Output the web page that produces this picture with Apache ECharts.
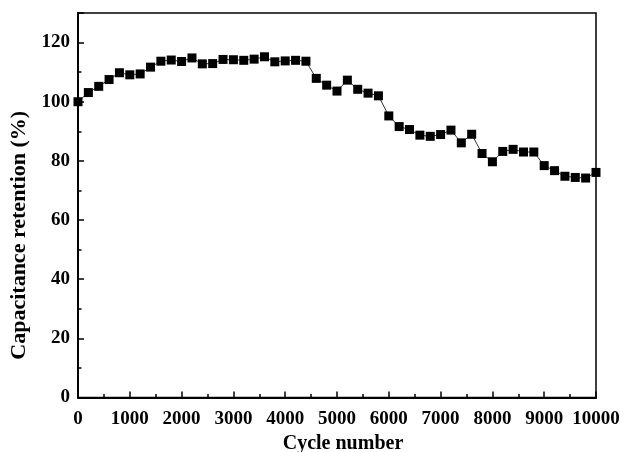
<!DOCTYPE html>
<html><head><meta charset="utf-8">
<script src="https://cdn.jsdelivr.net/npm/echarts@6/dist/echarts.min.js"></script>
<style>html,body{margin:0;padding:0;background:#fff}#c{width:633px;height:452px}</style>
</head><body><div id="c"></div>
<script>
const cycles = [0,200,400,600,800,1000,1200,1400,1600,1800,2000,2200,2400,2600,2800,3000,3200,3400,3600,3800,4000,4200,4400,4600,4800,5000,5200,5400,5600,5800,6000,6200,6400,6600,6800,7000,7200,7400,7600,7800,8000,8200,8400,8600,8800,9000,9200,9400,9600,9800,10000];
const retention = [100,103.1,105.2,107.5,109.8,109.1,109.4,111.7,113.7,114.1,113.6,114.8,112.8,112.9,114.3,114.2,114.0,114.4,115.2,113.5,113.8,114.0,113.7,107.9,105.6,103.6,107.3,104.2,102.9,102.0,95.2,91.6,90.6,88.7,88.3,88.9,90.4,86.1,89.0,82.5,79.7,83.2,83.9,83.0,83.0,78.4,76.7,74.8,74.4,74.2,76.1];
const xTitle = 'Cycle number';
const yTitle = 'Capacitance retention (%)';
const font = 'Liberation Serif';
const chart = echarts.init(document.getElementById('c'));
chart.setOption({
  animation:false,
  grid:{left:78,right:37,top:13,bottom:54.5,show:true,borderColor:'#000',borderWidth:1.5,backgroundColor:'transparent',outerBoundsMode:'none',containLabel:false},
  xAxis:{type:'value',min:0,max:10000,interval:1000,
    name:xTitle,nameLocation:'middle',nameGap:34,
    nameTextStyle:{fontFamily:font,fontWeight:'bold',fontSize:20,color:'#000',padding:[0,0,0,12]},
    axisLine:{show:true,lineStyle:{color:'#000',width:2}},
    axisTick:{show:true,inside:true,length:6,lineStyle:{color:'#000',width:1.5}},
    minorTick:{show:true,splitNumber:2,length:3.5,lineStyle:{color:'#000',width:1.5}},
    splitLine:{show:false},
    axisLabel:{fontFamily:font,fontWeight:'bold',fontSize:19,color:'#000',margin:12,
      formatter:function(v){return String(v);}}
  },
  yAxis:{type:'value',min:0,max:130,interval:20,
    name:yTitle,nameLocation:'middle',nameGap:43,
    nameTextStyle:{fontFamily:font,fontWeight:'bold',fontSize:22,color:'#000',padding:[0,60,0,0]},
    axisLine:{show:true,lineStyle:{color:'#000',width:2}},
    axisTick:{show:true,inside:true,length:6,lineStyle:{color:'#000',width:1.5}},
    minorTick:{show:true,splitNumber:2,length:3.5,lineStyle:{color:'#000',width:1.5}},
    splitLine:{show:false},
    axisLabel:{fontFamily:font,fontWeight:'bold',fontSize:19,color:'#000',margin:8,
      formatter:function(v){return v<=120?String(v):'';}}
  },
  series:[{type:'line',data:cycles.map((c,i)=>[c,retention[i]]),
    symbol:'rect',symbolSize:9,itemStyle:{color:'#000'},
    lineStyle:{color:'#333',width:1},clip:false}]
});
</script></body></html>
